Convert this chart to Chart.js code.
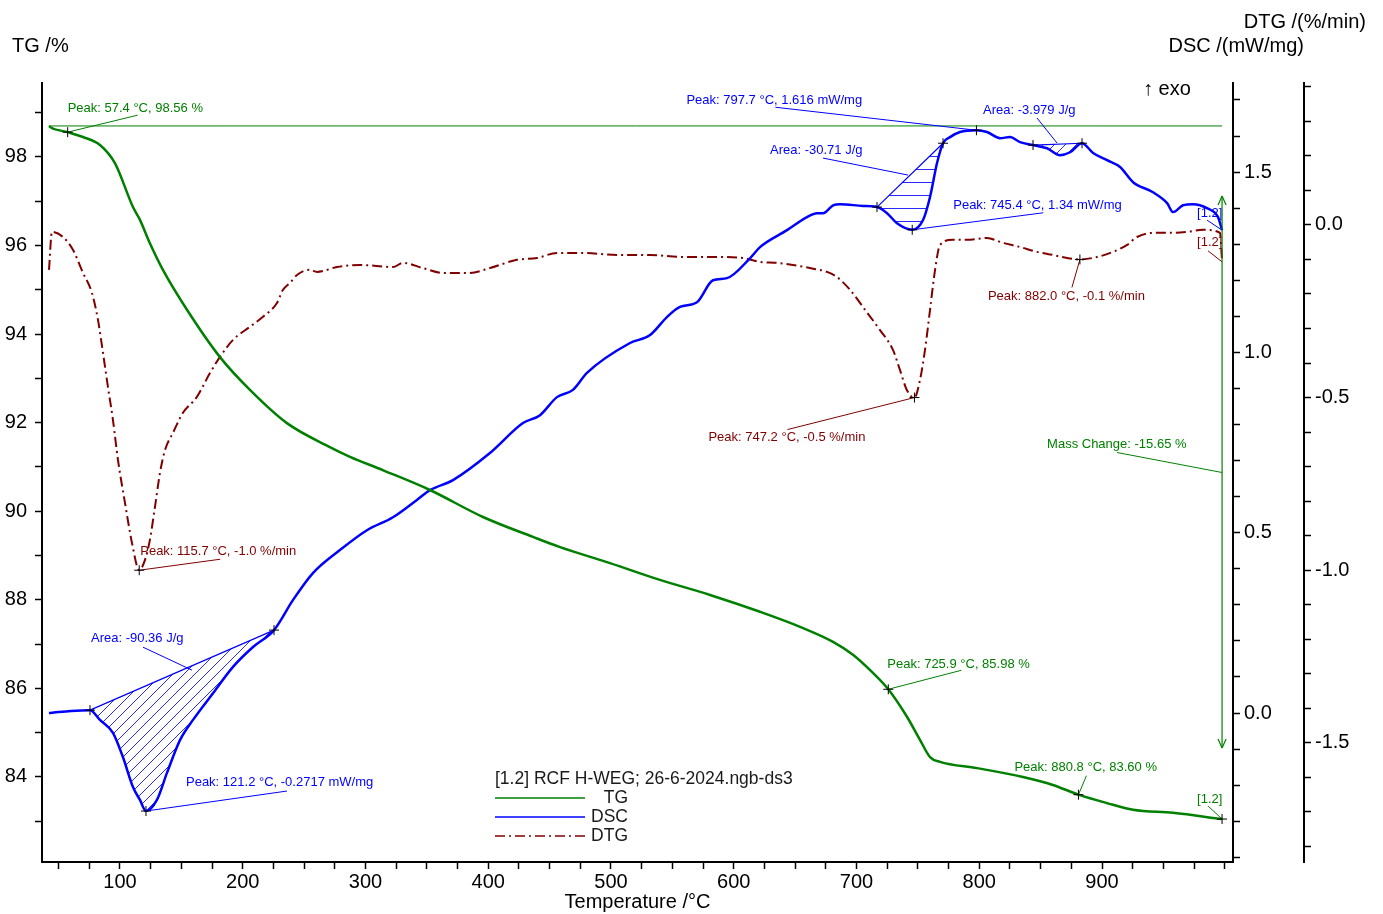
<!DOCTYPE html>
<html lang="en">
<head>
    <meta charset="UTF-8">
    <title>TG / DSC / DTG - RCF H-WEG</title>
    <script src="https://cdn.jsdelivr.net/npm/chart.js"></script>
    <style>
        body {
            margin: 0;
            background: #ffffff;
        }
        #thermo {
            display: block;
        }
    </style>
</head>
<body>
    <canvas id="thermo" width="1383" height="914"></canvas>

    <script>
        // TG curve: temperature (°C) and remaining mass (%)
        const tgTemp = [42.2, 44.0, 57.4, 69.9, 83.7, 95.9, 110.6, 116.3, 124.4, 135.0,
            154.6, 181.5, 205.9, 236.0, 271.0, 287.4, 314.0, 352.5, 395.7, 436.5,
            458.5, 499.2, 539.9, 580.7, 621.4, 654.0, 680.9, 697.1, 713.4, 725.9,
            741.1, 751.7, 759.9, 768.0, 798.2, 835.6, 860.0, 880.8, 904.0, 925.3,
            957.8, 997.8];
        const tgValues = [98.70, 98.66, 98.56, 98.45, 98.27, 97.86, 96.87, 96.58, 96.05, 95.45,
            94.55, 93.48, 92.74, 91.99, 91.45, 91.23, 90.93, 90.48, 89.87, 89.42,
            89.19, 88.83, 88.45, 88.11, 87.73, 87.39, 87.05, 86.76, 86.35, 85.98,
            85.36, 84.84, 84.45, 84.34, 84.20, 84.00, 83.82, 83.60, 83.41, 83.26,
            83.19, 83.05];

        // DSC curve: heat flow (mW/mg)
        const dscTemp = [42.2, 50.0, 60.0, 75.6, 83.7, 94.3, 102.4, 110.6, 116.3, 121.2,
            130.1, 138.3, 148.9, 159.5, 175.8, 192.1, 208.4, 225.5, 240.9, 257.2,
            279.2, 301.2, 322.4, 341.9, 352.5, 371.3, 401.4, 428.3, 442.2, 456.0,
            469.0, 480.4, 515.5, 531.8, 545.6, 556.2, 570.0, 583.1, 594.5, 613.2,
            621.4, 643.4, 659.7, 667.8, 672.7, 680.9, 686.6, 705.3, 716.7, 724.9,
            733.0, 745.4, 754.2, 759.9, 765.6, 770.5, 776.2, 784.3, 797.7, 806.3,
            816.9, 825.0, 833.2, 843.8, 855.2, 865.8, 874.0, 883.7, 892.7, 904.1,
            914.7, 925.3, 941.5, 953.0, 957.8, 966.0, 974.1, 985.5, 994.5, 997.8];
        const dscValues = [0.000, 0.003, 0.006, 0.008, -0.019, -0.055, -0.122, -0.205, -0.241, -0.2717,
            -0.241, -0.166, -0.075, -0.019, 0.055, 0.128, 0.183, 0.230, 0.313, 0.388,
            0.452, 0.507, 0.543, 0.591, 0.618, 0.646, 0.721, 0.804, 0.826, 0.876,
            0.896, 0.943, 1.026, 1.048, 1.098, 1.126, 1.139, 1.200, 1.206, 1.261,
            1.292, 1.339, 1.375, 1.386, 1.386, 1.408, 1.411, 1.406, 1.403, 1.386,
            1.358, 1.340, 1.367, 1.431, 1.525, 1.580, 1.597, 1.611, 1.616, 1.611,
            1.594, 1.597, 1.583, 1.575, 1.566, 1.547, 1.555, 1.580, 1.553, 1.533,
            1.514, 1.472, 1.444, 1.414, 1.389, 1.408, 1.411, 1.400, 1.375, 1.339];

        // DTG curve: mass loss rate (%/min)
        const dtgTemp = [42.2, 44.6, 53.6, 61.7, 69.9, 77.2, 82.1, 86.2, 90.2, 94.3,
            98.4, 104.1, 109.8, 115.7, 120.4, 124.4, 128.5, 132.6, 136.7, 143.2,
            151.3, 162.7, 173.3, 181.5, 192.1, 205.9, 216.5, 227.9, 232.8, 238.5,
            244.2, 254.8, 260.5, 276.8, 295.5, 322.4, 330.5, 346.8, 363.1, 385.1,
            401.4, 423.4, 439.7, 456.0, 477.2, 504.9, 531.8, 558.7, 586.4, 607.5,
            621.4, 635.2, 648.3, 662.1, 676.0, 684.1, 694.7, 707.0, 719.0, 729.7,
            735.4, 741.0, 747.2, 751.7, 755.8, 759.9, 764.0, 768.0, 778.6, 790.0,
            806.3, 819.3, 833.2, 847.0, 860.0, 871.5, 882.0, 895.9, 909.0, 920.4,
            928.5, 941.5, 955.4, 969.2, 982.3, 996.1, 997.8];
        const dtgValues = [-0.130, -0.020, -0.035, -0.072, -0.139, -0.197, -0.275, -0.371, -0.469, -0.565,
            -0.681, -0.805, -0.921, -1.0, -0.970, -0.912, -0.817, -0.718, -0.652, -0.602,
            -0.544, -0.498, -0.429, -0.382, -0.333, -0.295, -0.266, -0.226, -0.188, -0.168,
            -0.145, -0.130, -0.136, -0.122, -0.116, -0.122, -0.110, -0.125, -0.139, -0.139,
            -0.125, -0.101, -0.096, -0.081, -0.081, -0.087, -0.087, -0.093, -0.093, -0.096,
            -0.107, -0.110, -0.116, -0.125, -0.136, -0.151, -0.188, -0.246, -0.304, -0.362,
            -0.420, -0.478, -0.5, -0.449, -0.362, -0.246, -0.130, -0.058, -0.043, -0.043,
            -0.038, -0.052, -0.064, -0.078, -0.087, -0.096, -0.1, -0.093, -0.078, -0.058,
            -0.035, -0.023, -0.023, -0.020, -0.014, -0.023, -0.107];

        // evaluated points (temperatures that are in the series above)
        const tgMarkTemps = [57.4, 725.9, 880.8, 997.8];
        const dscMarkTemps = [75.6, 121.2, 225.5, 716.7, 745.4, 770.5, 797.7, 843.8, 883.7];
        const dtgMarkTemps = [115.7, 747.2, 882.0];
        const dscAreas = [[75.6, 225.5], [716.7, 770.5], [843.8, 883.7]];
        const massChange = -15.65;

        // tick labels
        const xTickLabels = [100, 200, 300, 400, 500, 600, 700, 800, 900];
        const tgTickLabels = [84, 86, 88, 90, 92, 94, 96, 98];
        const dscTickLabels = [0.0, 0.5, 1.0, 1.5];
        const dtgTickLabels = [0.0, -0.5, -1.0, -1.5];

        const GREEN = '#008000';
        const BLUE = '#0000ff';
        const RED = '#800000';
        const FONT = 'Arial, "Liberation Sans", sans-serif';

        // text labels, offsets are in pixels from the evaluated point
        const notes = [
            { s: 'tg', t: 57.4, text: 'Peak: 57.4 °C, 98.56 %', tx: 0, ty: -24, l: [0, 0, 70, -17] },
            { s: 'tg', t: 725.9, text: 'Peak: 725.9 °C, 85.98 %', tx: -1, ty: -25, l: [0, 0, 73, -19] },
            { s: 'tg', t: 880.8, text: 'Peak: 880.8 °C, 83.60 %', tx: -64, ty: -27, l: [0, 0, 8, -19] },
            { s: 'tg', t: 997.8, text: '[1.2]', tx: -25, ty: -20, l: [0, 0, -14, -13] },
            { s: 'dsc', t: 121.2, text: 'Peak: 121.2 °C, -0.2717 mW/mg', tx: 40, ty: -29, l: [0, 0, 141, -20] },
            { s: 'dsc', t: 75.6, text: 'Area: -90.36 J/g', tx: 1, ty: -72, l: [53, -63, 102, -40] },
            { s: 'dsc', t: 716.7, text: 'Area: -30.71 J/g', tx: -107, ty: -57, l: [-54, -49, 31, -32] },
            { s: 'dsc', t: 745.4, text: 'Peak: 745.4 °C, 1.34 mW/mg', tx: 41, ty: -24, l: [0, 0, 131, -17] },
            { s: 'dsc', t: 797.7, text: 'Peak: 797.7 °C, 1.616 mW/mg', tx: -290, ty: -30, l: [0, 0, -201, -23] },
            { s: 'dsc', t: 843.8, text: 'Area: -3.979 J/g', tx: -50, ty: -35, l: [4, -27, 24, -2] },
            { s: 'dsc', t: 997.8, text: '[1.2]', tx: -25, ty: -17, l: [0, 0, -15, -10] },
            { s: 'dtg', t: 115.7, text: 'Peak: 115.7 °C, -1.0 %/min', tx: 1, ty: -19, l: [0, 0, 81, -11] },
            { s: 'dtg', t: 747.2, text: 'Peak: 747.2 °C, -0.5 %/min', tx: -206, ty: 40, l: [0, 0, -127, 32] },
            { s: 'dtg', t: 882.0, text: 'Peak: 882.0 °C, -0.1 %/min', tx: -92, ty: 37, l: [0, 0, -8, 28] },
            { s: 'dtg', t: 997.8, text: '[1.2]', tx: -25, ty: -19, l: [0, 0, -14, -11] }
        ];

        const series = {
            tg: { temp: tgTemp, values: tgValues, axis: 'yTg', color: GREEN },
            dsc: { temp: dscTemp, values: dscValues, axis: 'yDsc', color: BLUE },
            dtg: { temp: dtgTemp, values: dtgValues, axis: 'yDtg', color: RED }
        };

        function valueAt(s, t) {
            const i = s.temp.findIndex(v => Math.abs(v - t) < 1e-6);
            return s.values[i];
        }

        function toPoints(temp, values) {
            return temp.map((t, i) => ({ x: t, y: values[i] }));
        }

        // hatch fill for the integrated DSC areas
        function hatch(kind) {
            const size = kind === 'h' ? 13 : 11;
            const c = document.createElement('canvas');
            c.width = size;
            c.height = size;
            const g = c.getContext('2d');
            g.strokeStyle = '#2a2aff';
            g.lineWidth = 1;
            g.beginPath();
            if (kind === 'h') {
                g.moveTo(0, 0.5);
                g.lineTo(size, 0.5);
            } else {
                g.moveTo(-1, size + 1);
                g.lineTo(size + 1, -1);
            }
            g.stroke();
            return g.createPattern(c, 'repeat');
        }
        const hatchKinds = ['d', 'h', 'd'];

        // minor ticks with labels only on the listed values
        function tickSetup(from, to, step, labels, digits) {
            return {
                afterBuildTicks(scale) {
                    const ticks = [];
                    const n = Math.round((to - from) / step);
                    for (let i = 0; i <= n; i++) {
                        ticks.push({ value: Math.round((from + i * step) * 1000) / 1000 });
                    }
                    scale.ticks = ticks;
                },
                callback(v) {
                    return labels.some(l => Math.abs(l - v) < 1e-6) ? v.toFixed(digits) : '';
                }
            };
        }

        function axisStyle(extra) {
            return Object.assign({
                grid: { drawOnChartArea: false, drawTicks: true, tickLength: 7, tickColor: '#000', tickWidth: 1.5 },
                border: { display: true, color: '#000', width: 2 }
            }, extra);
        }

        const datasets = [
            {
                label: 'TG', data: toPoints(tgTemp, tgValues), yAxisID: 'yTg',
                borderColor: GREEN, borderWidth: 2.5, pointRadius: 0, cubicInterpolationMode: 'monotone', fill: false
            },
            {
                label: 'DSC', data: toPoints(dscTemp, dscValues), yAxisID: 'yDsc',
                borderColor: BLUE, borderWidth: 2.5, pointRadius: 0, cubicInterpolationMode: 'monotone', fill: false
            },
            {
                label: 'DTG', data: toPoints(dtgTemp, dtgValues), yAxisID: 'yDtg',
                borderColor: RED, borderWidth: 2, borderDash: [10, 4, 2, 4], pointRadius: 0,
                cubicInterpolationMode: 'monotone', fill: false
            },
            {
                // start level reference for the mass change step
                label: 'TG start', yAxisID: 'yTg',
                data: [{ x: tgTemp[0], y: tgValues[0] }, { x: tgTemp[tgTemp.length - 1], y: tgValues[0] }],
                borderColor: GREEN, borderWidth: 1, pointRadius: 0, fill: false
            }
        ];

        // straight baselines of the DSC integrations, hatched against the curve
        dscAreas.forEach((a, k) => {
            datasets.push({
                label: 'area ' + (k + 1), yAxisID: 'yDsc',
                data: a.map(t => ({ x: t, y: valueAt(series.dsc, t) })),
                borderColor: BLUE, borderWidth: 1.2, pointRadius: 0,
                fill: { target: 1 },
                backgroundColor: hatch(hatchKinds[k])
            });
        });

        function drawText(ctx, str, x, y, color, size, align) {
            ctx.save();
            ctx.font = size + 'px ' + FONT;
            ctx.fillStyle = color;
            ctx.textAlign = align || 'left';
            ctx.textBaseline = 'middle';
            ctx.fillText(str, x, y);
            ctx.restore();
        }

        function line(ctx, x1, y1, x2, y2, color, width, dash) {
            ctx.save();
            ctx.strokeStyle = color;
            ctx.lineWidth = width;
            ctx.setLineDash(dash || []);
            ctx.beginPath();
            ctx.moveTo(x1, y1);
            ctx.lineTo(x2, y2);
            ctx.stroke();
            ctx.restore();
        }

        function cross(ctx, x, y) {
            line(ctx, x - 5, y, x + 5, y, '#000', 1);
            line(ctx, x, y - 5, x, y + 5, '#000', 1);
        }

        const overlay = {
            id: 'overlay',
            afterDraw(chart) {
                const ctx = chart.ctx;
                const xs = chart.scales.x;
                const px = t => xs.getPixelForValue(t);
                const py = (s, v) => chart.scales[s.axis].getPixelForValue(v);

                // leader lines and labels
                notes.forEach(n => {
                    const s = series[n.s];
                    const ax = px(n.t);
                    const ay = py(s, valueAt(s, n.t));
                    line(ctx, ax + n.l[0], ay + n.l[1], ax + n.l[2], ay + n.l[3], s.color, 1);
                    drawText(ctx, n.text, ax + n.tx, ay + n.ty, s.color, 13);
                });

                // mass change arrow between start and end level
                const tEnd = tgTemp[tgTemp.length - 1];
                const ax = px(tEnd);
                const yTop = py(series.tg, tgValues[0]) + 70;
                const yBot = py(series.tg, tgValues[0] + massChange) - 71;
                line(ctx, ax, yTop, ax, yBot, GREEN, 1.2);
                line(ctx, ax - 4, yTop + 9, ax, yTop, GREEN, 1.2);
                line(ctx, ax + 4, yTop + 9, ax, yTop, GREEN, 1.2);
                line(ctx, ax - 4, yBot - 9, ax, yBot, GREEN, 1.2);
                line(ctx, ax + 4, yBot - 9, ax, yBot, GREEN, 1.2);
                const ym = (py(series.tg, tgValues[0]) + py(series.tg, tgValues[0] + massChange)) / 2;
                line(ctx, ax - 105, ym - 20, ax, ym, GREEN, 1);
                drawText(ctx, 'Mass Change: ' + massChange.toFixed(2) + ' %', ax - 175, ym - 28, GREEN, 13);

                // evaluation markers
                tgMarkTemps.forEach(t => cross(ctx, px(t), py(series.tg, valueAt(series.tg, t))));
                dscMarkTemps.forEach(t => cross(ctx, px(t), py(series.dsc, valueAt(series.dsc, t))));
                dtgMarkTemps.forEach(t => cross(ctx, px(t), py(series.dtg, valueAt(series.dtg, t))));

                // axis headings
                drawText(ctx, 'TG /%', 12, 46, '#000', 20);
                drawText(ctx, 'DTG /(%/min)', 1366, 22, '#000', 20, 'right');
                drawText(ctx, 'DSC /(mW/mg)', 1304, 46, '#000', 20, 'right');
                drawText(ctx, '\u2191 exo', 1143, 89, '#000', 20);

                // legend
                drawText(ctx, '[1.2] RCF H-WEG; 26-6-2024.ngb-ds3', 495, 779, '#1a1a1a', 17.5);
                line(ctx, 495, 798, 585, 798, GREEN, 1.5);
                line(ctx, 495, 817, 585, 817, BLUE, 1.5);
                line(ctx, 495, 836, 585, 836, RED, 1.5, [10, 4, 2, 4]);
                drawText(ctx, 'TG', 628, 798, '#1a1a1a', 17.5, 'right');
                drawText(ctx, 'DSC', 628, 817, '#1a1a1a', 17.5, 'right');
                drawText(ctx, 'DTG', 628, 836, '#1a1a1a', 17.5, 'right');
            }
        };

        const tickFont = { family: FONT, size: 20 };

        new Chart(document.getElementById('thermo'), {
            type: 'line',
            data: { datasets: datasets },
            options: {
                responsive: false,
                devicePixelRatio: 1,
                animation: false,
                layout: { padding: { top: 83, left: 0, right: 0, bottom: 0 } },
                plugins: {
                    legend: { display: false },
                    tooltip: { enabled: false },
                    filler: { propagate: false }
                },
                scales: {
                    x: axisStyle(Object.assign({
                        type: 'linear', position: 'bottom', min: 36.5, max: 1006.7,
                        ticks: Object.assign({ color: '#000', font: tickFont, padding: 1, autoSkip: false, maxRotation: 0 },
                            { callback: tickSetup(50, 1000, 25, xTickLabels, 0).callback }),
                        title: { display: true, text: 'Temperature /°C', color: '#000', font: tickFont, padding: 0 },
                        afterFit(scale) { scale.height = 52; }
                    }, { afterBuildTicks: tickSetup(50, 1000, 25, xTickLabels, 0).afterBuildTicks })),
                    yTg: axisStyle({
                        type: 'linear', position: 'left', min: 82.08, max: 99.67,
                        afterBuildTicks: tickSetup(83, 99, 1, tgTickLabels, 0).afterBuildTicks,
                        ticks: { color: '#000', font: tickFont, padding: 8, autoSkip: false,
                            callback: tickSetup(83, 99, 1, tgTickLabels, 0).callback },
                        afterFit(scale) { scale.width = 42; }
                    }),
                    yDsc: axisStyle({
                        type: 'linear', position: 'right', weight: 0, min: -0.413, max: 1.747,
                        afterBuildTicks: tickSetup(-0.4, 1.7, 0.1, dscTickLabels, 1).afterBuildTicks,
                        ticks: { color: '#000', font: tickFont, padding: 4, autoSkip: false,
                            callback: tickSetup(-0.4, 1.7, 0.1, dscTickLabels, 1).callback },
                        afterFit(scale) { scale.width = 71; }
                    }),
                    yDtg: axisStyle({
                        type: 'linear', position: 'right', weight: 1, min: -1.845, max: 0.411,
                        afterBuildTicks: tickSetup(-1.8, 0.4, 0.1, dtgTickLabels, 1).afterBuildTicks,
                        ticks: { color: '#000', font: tickFont, padding: 4, autoSkip: false,
                            callback: tickSetup(-1.8, 0.4, 0.1, dtgTickLabels, 1).callback },
                        afterFit(scale) { scale.width = 79; }
                    })
                }
            },
            plugins: [overlay]
        });
    </script>
</body>
</html>
